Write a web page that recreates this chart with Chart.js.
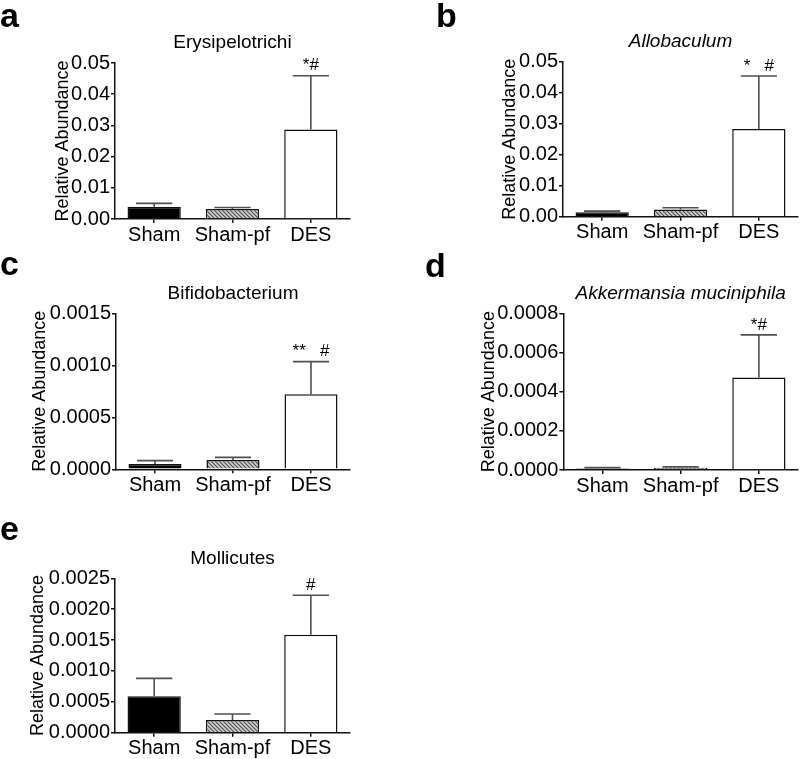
<!DOCTYPE html>
<html>
<head>
<meta charset="utf-8">
<script src="https://cdn.jsdelivr.net/npm/chart.js@4.4.0/dist/chart.umd.min.js"></script>
<style>
  html, body { margin:0; padding:0; background:#fff; }
  body { width:800px; height:759px; position:relative; overflow:hidden; }
  canvas { position:absolute; }
</style>
</head>
<body>
<script>
// ---------------- DATA ----------------
const categories = ['Sham', 'Sham-pf', 'DES'];
const panelLetters = ['a', 'b', 'c', 'd', 'e'];
const panelTitles = ['Erysipelotrichi', 'Allobaculum', 'Bifidobacterium', 'Akkermansia muciniphila', 'Mollicutes'];
const titleItalic = [false, true, false, true, false];
const yAxisTitle = 'Relative Abundance';

// mean relative abundance per group
const meanErysipelotrichi = [0.0039, 0.0032, 0.0287];
const meanAllobaculum     = [0.0014, 0.0023, 0.0283];
const meanBifidobacterium = [0.000052, 0.000089, 0.000721];
const meanAkkermansia     = [0.000008, 0.000011, 0.000472];
const meanMollicutes      = [0.00059, 0.000206, 0.001588];

// upper error (SEM) per group
const semErysipelotrichi = [0.0011, 0.0005, 0.0172];
const semAllobaculum     = [0.0004, 0.0006, 0.0171];
const semBifidobacterium = [0.000031, 0.000026, 0.000314];
const semAkkermansia     = [0.000004, 0.000005, 0.000218];
const semMollicutes      = [0.00029, 0.000097, 0.000638];

// significance marks per group
const sigErysipelotrichi = ['', '', '*#'];
const sigAllobaculum     = ['', '', '*   #'];
const sigBifidobacterium = ['', '', '**   #'];
const sigAkkermansia     = ['', '', '*#'];
const sigMollicutes      = ['', '', '#'];

// y axis ranges / tick labels
const yMaxes = [0.05, 0.05, 0.0015, 0.0008, 0.0025];
const ySteps = [0.01, 0.01, 0.0005, 0.0002, 0.0005];
const yDecimals = [2, 2, 4, 4, 4];

const means = [meanErysipelotrichi, meanAllobaculum, meanBifidobacterium, meanAkkermansia, meanMollicutes];
const sems = [semErysipelotrichi, semAllobaculum, semBifidobacterium, semAkkermansia, semMollicutes];
const sigs = [sigErysipelotrichi, sigAllobaculum, sigBifidobacterium, sigAkkermansia, sigMollicutes];

// ---------------- LAYOUT (positions / sizes) ----------------
const boxes = [
  {left:0,   top:0,   w:400, h:250, axisX:115,   right:350, plotTop:63,   plotBottom:219,   yTitleX:63,  letterX:0,  letterY:27},
  {left:400, top:0,   w:400, h:250, axisX:163,   right:398, plotTop:61.7, plotBottom:216.7, yTitleX:110, letterX:36, letterY:27},
  {left:0,   top:250, w:400, h:250, axisX:116,   right:350, plotTop:63.3, plotBottom:219.3, yTitleX:40,  letterX:0,  letterY:25},
  {left:400, top:250, w:400, h:250, axisX:163.3, right:398, plotTop:63.3, plotBottom:220,   yTitleX:89,  letterX:25, letterY:27},
  {left:0,   top:490, w:400, h:269, axisX:115,   right:350, plotTop:88.3, plotBottom:242.7, yTitleX:38,  letterX:0,  letterY:50}
];

const FONT = "'Liberation Sans', Arial, sans-serif";

function hatchPattern() {
  const s = 4;
  const c = document.createElement('canvas');
  c.width = s; c.height = s;
  const g = c.getContext('2d');
  g.fillStyle = '#d0d0d0';
  g.fillRect(0, 0, s, s);
  g.strokeStyle = '#4a4a4a';
  g.lineWidth = 1.1;
  g.beginPath();
  g.moveTo(0, 0); g.lineTo(s, s);
  g.moveTo(-1, s - 1); g.lineTo(1, s + 1);
  g.moveTo(s - 1, -1); g.lineTo(s + 1, 1);
  g.stroke();
  return g.createPattern(c, 'repeat');
}

const decorPlugin = {
  id: 'decor',
  afterDatasetsDraw(chart, args, opts) {
    const {ctx, scales: {y}, chartArea} = chart;
    const meta = chart.getDatasetMeta(0);
    ctx.save();
    meta.data.forEach((bar, i) => {
      const v = opts.means[i], e = opts.sems[i];
      const yBar = y.getPixelForValue(v);
      const yTop = y.getPixelForValue(v + e);
      const cx = bar.x;
      const capW = bar.width * 0.68;
      ctx.strokeStyle = '#505050';
      ctx.lineWidth = 1.6;
      ctx.beginPath();
      ctx.moveTo(cx, yBar);
      ctx.lineTo(cx, yTop);
      ctx.moveTo(cx - capW / 2, yTop);
      ctx.lineTo(cx + capW / 2, yTop);
      ctx.stroke();
      if (opts.sigs[i]) {
        ctx.fillStyle = '#000';
        ctx.font = '17px ' + FONT;
        ctx.textAlign = 'center';
        ctx.textBaseline = 'middle';
        ctx.fillText(opts.sigs[i], cx, yTop - 10);
      }
    });
    // panel title
    ctx.fillStyle = '#000';
    ctx.font = (opts.italic ? 'italic ' : '') + '19px ' + FONT;
    ctx.textAlign = 'center';
    ctx.textBaseline = 'middle';
    ctx.fillText(opts.title, (chartArea.left + chartArea.right) / 2, chartArea.top - 20);
    // panel letter
    ctx.font = 'bold 34px ' + FONT;
    ctx.textAlign = 'left';
    ctx.textBaseline = 'alphabetic';
    ctx.fillText(opts.letter, opts.letterX, opts.letterY);
    ctx.restore();
  }
};

boxes.forEach((b, i) => {
  const cv = document.createElement('canvas');
  cv.width = b.w; cv.height = b.h;
  cv.style.left = b.left + 'px';
  cv.style.top = b.top + 'px';
  cv.style.width = b.w + 'px';
  cv.style.height = b.h + 'px';
  document.body.appendChild(cv);

  new Chart(cv.getContext('2d'), {
    type: 'bar',
    data: {
      labels: categories,
      datasets: [{
        data: means[i],
        backgroundColor: ['#000000', hatchPattern(), '#ffffff'],
        borderColor: '#111',
        borderWidth: 1.5,
        categoryPercentage: 1.0,
        barPercentage: 0.68
      }]
    },
    options: {
      responsive: false,
      animation: false,
      devicePixelRatio: 1,
      layout: { padding: { top: b.plotTop, left: 0, right: b.w - b.right, bottom: 0 } },
      plugins: {
        legend: { display: false },
        tooltip: { enabled: false },
        title: { display: false },
        decor: {
          means: means[i], sems: sems[i], sigs: sigs[i],
          title: panelTitles[i], italic: titleItalic[i],
          letter: panelLetters[i], letterX: b.letterX, letterY: b.letterY
        }
      },
      scales: {
        x: {
          grid: { display: true, drawOnChartArea: false, drawTicks: true, tickLength: 4, offset: false, color: '#111', lineWidth: 1.5 },
          border: { display: true, color: '#111', width: 1.5 },
          ticks: { color: '#000', font: { family: FONT, size: 20 }, padding: 0, maxRotation: 0, autoSkip: false },
          afterFit: s => { s.height = b.h - b.plotBottom; }
        },
        y: {
          min: 0, max: yMaxes[i],
          grid: { display: true, drawOnChartArea: false, drawTicks: true, tickLength: 4, color: '#111', lineWidth: 1.5 },
          border: { display: true, color: '#111', width: 1.5 },
          ticks: {
            stepSize: ySteps[i], color: '#000', font: { family: FONT, size: 20 }, padding: 1,
            callback: v => Number(v).toFixed(yDecimals[i])
          },
          title: { display: true, text: yAxisTitle, color: '#000', font: { family: FONT, size: 18 }, padding: { top: b.yTitleX - 10.8, bottom: 0 } },
          afterFit: s => { s.width = b.axisX; }
        }
      }
    },
    plugins: [decorPlugin]
  });
});
</script>
</body>
</html>
